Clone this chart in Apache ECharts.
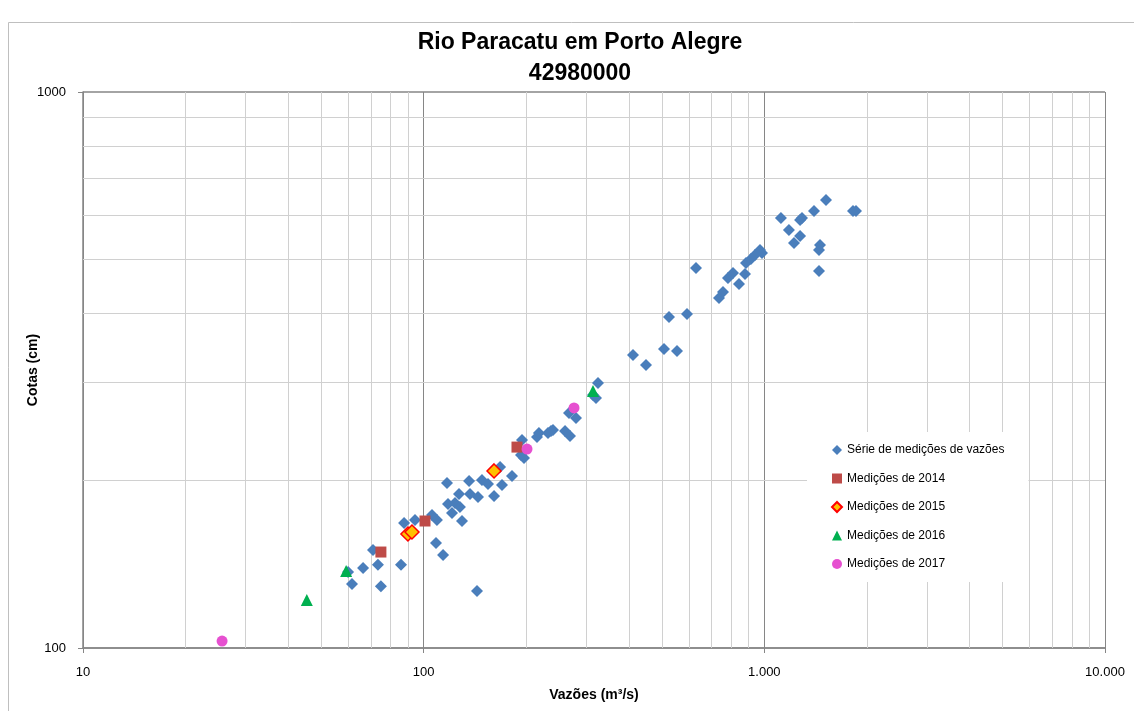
<!DOCTYPE html>
<html>
<head>
<meta charset="utf-8">
<script src="https://cdn.jsdelivr.net/npm/echarts@6/dist/echarts.min.js"></script>
<style>
  html, body { margin: 0; padding: 0; background: #fff; }
  #chart { width: 1134px; height: 711px; }
</style>
</head>
<body>
<div id="chart"></div>
<script>
// vazão (m3/s), cota (cm)
var serieMedicoes = [
  [61.6, 130.3], [60.0, 137.0], [66.4, 139.3], [73.4, 141.1], [74.9, 129.2],
  [71.0, 150.1], [85.8, 141.1], [87.6, 167.8], [94.3, 169.9], [105.8, 173.4],
  [109.4, 169.9], [108.7, 154.5], [114.0, 147.0], [117.1, 198.0], [117.9, 181.6],
  [121.1, 174.9], [123.6, 182.3], [127.0, 189.2], [127.8, 179.3], [129.6, 169.2],
  [135.9, 199.7], [136.8, 189.2], [144.4, 186.9], [143.4, 126.6], [148.3, 200.5],
  [154.5, 197.2], [160.9, 187.7], [167.6, 211.6], [169.8, 196.4], [181.7, 203.9],
  [194.4, 236.6], [193.1, 222.4], [197.0, 219.6], [215.1, 239.6], [218.0, 243.6],
  [231.7, 243.6], [236.5, 245.6], [239.7, 246.6], [260.0, 245.6], [268.9, 240.6],
  [267.1, 264.7], [280.0, 259.3], [314.1, 285.1], [320.5, 281.7], [324.9, 299.7],
  [411.6, 336.5], [449.5, 322.8], [507.6, 345.0], [554.2, 342.1], [525.0, 393.8],
  [592.9, 398.7], [630.0, 482.5], [736.0, 426.2], [756.2, 436.9], [782.1, 463.0],
  [809.0, 472.6], [842.5, 451.6], [877.4, 470.7], [883.4, 492.6], [913.6, 500.8],
  [938.9, 509.2], [971.1, 519.8], [984.4, 513.4], [1119, 593.5], [1181, 564.7],
  [1290, 593.5], [1273, 588.6], [1273, 550.8], [1222, 535.1], [1399, 610.9],
  [1517, 639.5], [1457, 530.7], [1447, 519.8], [1447, 476.6], [1821, 610.9],
  [1858, 610.9]
];
var medicoes2014 = [[74.9, 148.8], [100.9, 169.2], [187.9, 229.8]];
var medicoes2015 = [[89.9, 160.3], [92.4, 161.7], [160.9, 208.2]];
var medicoes2016 = [[45.4, 122.0], [59.2, 137.6], [314.1, 289.9]];
var medicoes2017 = [[25.6, 102.9], [201.1, 227.9], [276.3, 270.2]];

// linhas de grade secundárias
var gradeX = [20, 30, 40, 50, 60, 70, 80, 90, 200, 300, 400, 500, 600, 700, 800, 900,
              2000, 3000, 4000, 5000, 6000, 7000, 8000, 9000];
var gradeY = [200, 300, 400, 500, 600, 700, 800, 900];

var fonte = "'Liberation Sans', Arial, sans-serif";

function milhar(v) {
  return String(v).replace(/\B(?=(\d{3})+(?!\d))/g, '.');
}

var minorLines = [];
gradeX.forEach(function (v) { minorLines.push({ xAxis: v }); });
gradeY.forEach(function (v) { minorLines.push({ yAxis: v }); });

var myChart = echarts.init(document.getElementById('chart'));

var option = {
  backgroundColor: '#fff',
  animation: false,
  textStyle: { fontFamily: fonte },
  graphic: [{
    type: 'rect',
    shape: { x: 8.5, y: 22.5, width: 1140, height: 700 },
    style: { fill: 'none', stroke: '#bfbfbf', lineWidth: 1 },
    silent: true
  }],
  title: {
    text: 'Rio Paracatu em Porto Alegre\n42980000',
    left: 575,
    top: 22,
    textAlign: 'center',
    textStyle: { fontSize: 23, fontWeight: 'bold', color: '#000', lineHeight: 31, fontFamily: fonte }
  },
  legend: {
    orient: 'vertical',
    left: 807,
    top: 432,
    padding: [12, 24, 12, 24],
    itemGap: 16.5,
    itemWidth: 10,
    itemHeight: 10,
    backgroundColor: '#fff',
    textStyle: { fontSize: 12, color: '#000', fontFamily: fonte },
    data: ['Série de medições de vazões', 'Medições de 2014', 'Medições de 2015',
           'Medições de 2016', 'Medições de 2017']
  },
  grid: { left: 83, right: 29, top: 92, bottom: 63 },
  xAxis: {
    type: 'log',
    logBase: 10,
    min: 10,
    max: 10000,
    name: 'Vazões (m³/s)',
    nameLocation: 'middle',
    nameGap: 40,
    nameMoveOverlap: false,
    nameTextStyle: { fontSize: 14, fontWeight: 'bold', color: '#000' },
    axisLine: { show: true, lineStyle: { color: '#868686', width: 1.5 } },
    axisTick: { show: true, length: 5, lineStyle: { color: '#868686' } },
    axisLabel: { fontSize: 13, color: '#000', margin: 18, formatter: function (v) { return milhar(Math.round(v)); } },
    splitLine: { show: true, lineStyle: { color: '#868686', width: 1 } }
  },
  yAxis: {
    type: 'log',
    logBase: 10,
    min: 100,
    max: 1000,
    name: 'Cotas (cm)',
    nameLocation: 'middle',
    nameGap: 43,
    nameMoveOverlap: false,
    nameTextStyle: { fontSize: 14, fontWeight: 'bold', color: '#000' },
    axisLine: { show: true, lineStyle: { color: '#868686', width: 1.5 } },
    axisTick: { show: true, length: 5, lineStyle: { color: '#868686' } },
    axisLabel: { fontSize: 13, color: '#000', margin: 17, formatter: function (v) { return String(Math.round(v)); } },
    splitLine: { show: true, lineStyle: { color: '#868686', width: 1.5 } }
  },
  series: [
    {
      name: 'grade',
      type: 'scatter',
      data: [],
      silent: true,
      z: 1,
      markLine: {
        silent: true,
        z: 1,
        symbol: 'none',
        label: { show: false },
        animation: false,
        lineStyle: { color: '#d0d0d0', type: 'solid', width: 1 },
        emphasis: { disabled: true },
        data: minorLines
      }
    },
    {
      name: 'Série de medições de vazões',
      type: 'scatter',
      symbol: 'diamond',
      symbolSize: 12,
      itemStyle: { color: '#4a7ebb', opacity: 1 },
      z: 3,
      data: serieMedicoes
    },
    {
      name: 'Medições de 2014',
      type: 'scatter',
      symbol: 'rect',
      symbolSize: 11,
      itemStyle: { color: '#be4b48', opacity: 1 },
      z: 4,
      data: medicoes2014
    },
    {
      name: 'Medições de 2015',
      type: 'scatter',
      symbol: 'diamond',
      symbolSize: 14,
      itemStyle: { color: '#ffc000', borderColor: '#ff0000', borderWidth: 1.5, opacity: 1 },
      z: 5,
      data: medicoes2015
    },
    {
      name: 'Medições de 2016',
      type: 'scatter',
      symbol: 'triangle',
      symbolSize: 12,
      itemStyle: { color: '#00b050', opacity: 1 },
      z: 6,
      data: medicoes2016
    },
    {
      name: 'Medições de 2017',
      type: 'scatter',
      symbol: 'circle',
      symbolSize: 11,
      itemStyle: { color: '#e650d0', opacity: 1 },
      z: 7,
      data: medicoes2017
    }
  ]
};

myChart.setOption(option);
</script>
</body>
</html>
